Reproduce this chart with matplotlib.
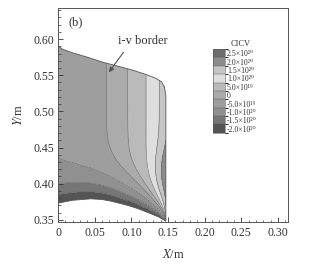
import numpy as np
import matplotlib
matplotlib.use('Agg')
import matplotlib.pyplot as plt
import matplotlib.ticker as ticker
from matplotlib.path import Path
from matplotlib.patches import PathPatch
from matplotlib.colors import ListedColormap, BoundaryNorm
from matplotlib.cm import ScalarMappable

plt.rcParams['font.family'] = ['Liberation Serif', 'DejaVu Serif']
plt.rcParams['mathtext.fontset'] = 'stix'

# domain outline (m)
top_x = [0.0, 0.006, 0.02, 0.04, 0.061, 0.08, 0.102, 0.12, 0.133, 0.141, 0.145, 0.147]
top_y = [0.591, 0.586, 0.581, 0.575, 0.568, 0.563, 0.557, 0.551, 0.546, 0.541, 0.534, 0.522]
bot_x = [0.0, 0.02, 0.045, 0.06, 0.071, 0.087, 0.098, 0.11, 0.125, 0.137, 0.147]
bot_y = [0.373, 0.377, 0.379, 0.378, 0.376, 0.372, 0.369, 0.365, 0.359, 0.354, 0.348]
corner_x = 0.147

# contour positions (values in 1e20)
top_line_x = [0.147, 0.138, 0.120, 0.095, 0.066]   # along y = 0.55
top_line_v = [1.9, 1.5, 1.0, 0.5, 0.0]
left_line_y = [0.436, 0.400, 0.385, 0.373]          # along x = 0
left_line_v = [-0.5, -1.0, -1.5, -1.9]
spot_x, spot_y, spot_v = 0.148, 0.415, 0.5          # darker patch on right wall

# legend, top to bottom
legend_labels = ['2.5×10²⁰', '2.0×10²⁰', '1.5×10²⁰', '1.0×10²⁰', '5.0×10¹⁹',
                 '0', '-5.0×10¹⁹', '-1.0×10²⁰', '-1.5×10²⁰', '-2.0×10²⁰']
legend_colors = ['#6e6e6e', '#8c8c8c', '#c6c6c6', '#dedede', '#bababa',
                 '#ababab', '#9e9e9e', '#909090', '#767676', '#545454']
legend_vals = [2.5, 2.0, 1.5, 1.0, 0.5, 0.0, -0.5, -1.0, -1.5, -2.0]


def u_coord(x, y):
    """fan coordinate around the bottom-right corner: 0 on the wall, 1 on the bottom"""
    ybot = np.interp(x, bot_x, bot_y)
    p = np.clip((corner_x - x) / corner_x, 0, None)
    d = np.clip(y - ybot, 0, None)
    g = 1 - np.exp(-(d / 0.044) ** 2)
    return np.arctan2(p, g) / (np.pi / 2)


def main():
    # sample values along the fan coordinate
    su = np.concatenate([u_coord(np.array(top_line_x), np.full(len(top_line_x), 0.55)),
                         u_coord(np.zeros(len(left_line_y)), np.array(left_line_y))])
    sv = np.array(top_line_v + left_line_v)
    order = np.argsort(su)
    su, sv = su[order], sv[order]

    gx, gy = np.meshgrid(np.linspace(0, 0.152, 400), np.linspace(0.344, 0.60, 400))
    field = np.interp(u_coord(gx, gy), su, sv)
    field += spot_v * np.exp(-((gx - spot_x) / 0.016) ** 2 - ((gy - spot_y) / 0.035) ** 2)

    fig = plt.figure(figsize=(3.09, 2.69), dpi=100)
    ax = fig.add_axes([0.188, 0.175, 0.744, 0.795])

    levels = [-10, -1.5, -1.0, -0.5, 0, 0.5, 1.0, 1.5, 2.0, 2.5, 10]
    band_colors = legend_colors[::-1]
    cs = ax.contourf(gx, gy, field, levels=levels, colors=band_colors)
    cl = ax.contour(gx, gy, field, levels=levels[1:-1], colors='#666666', linewidths=0.4)

    verts = list(zip(top_x, top_y)) + list(zip(bot_x[::-1], bot_y[::-1]))
    verts.append(verts[0])
    outline = PathPatch(Path(verts, closed=True), facecolor='none', edgecolor='#555555', lw=0.6)
    ax.add_patch(outline)
    cs.set_clip_path(outline)
    cl.set_clip_path(outline)

    ax.set_xlim(0, 0.3136)
    ax.set_ylim(0.347, 0.643)
    ax.xaxis.set_major_locator(ticker.MultipleLocator(0.05))
    ax.yaxis.set_major_locator(ticker.MultipleLocator(0.05))
    ax.xaxis.set_minor_locator(ticker.MultipleLocator(0.01))
    ax.yaxis.set_minor_locator(ticker.MultipleLocator(0.01))
    ax.xaxis.set_major_formatter(ticker.FuncFormatter(lambda v, pos: '0' if abs(v) < 1e-9 else '%.2f' % v))
    ax.yaxis.set_major_formatter(ticker.FormatStrFormatter('%.2f'))
    ax.tick_params(which='major', direction='in', length=3.5, width=0.6, labelsize=8.5, colors='#333333')
    ax.tick_params(which='minor', direction='in', length=1.8, width=0.5, colors='#333333')
    ax.tick_params(axis='x', pad=4)
    ax.tick_params(axis='y', pad=3)
    for s in ax.spines.values():
        s.set_color('#555555')
        s.set_linewidth(0.7)

    ax.set_xlabel('$X$/m', fontsize=9, color='#333333', labelpad=6)
    ax.set_ylabel('$Y$/m', fontsize=9, color='#333333', labelpad=6)

    ax.text(0.014, 0.623, '(b)', fontsize=9, color='#333333', va='center')
    ax.annotate('i-v border', xy=(0.067, 0.551), xytext=(0.082, 0.597),
                fontsize=9, color='#333333', va='center', ha='left',
                arrowprops=dict(arrowstyle='-|>', color='#555555', lw=0.8,
                                mutation_scale=7, relpos=(0.18, 0)))

    # legend
    cax = fig.add_axes([0.689, 0.506, 0.039, 0.312])
    norm = BoundaryNorm(np.arange(-2.0, 3.01, 0.5), 10)
    sm = ScalarMappable(norm=norm, cmap=ListedColormap(band_colors))
    centers = [v + 0.25 for v in legend_vals[::-1]]
    cb = fig.colorbar(sm, cax=cax, ticks=centers, drawedges=True)
    cb.ax.set_yticklabels(legend_labels[::-1])
    cb.ax.tick_params(length=0, pad=1.5, labelsize=5.6, colors='#333333')
    cb.outline.set_linewidth(0.4)
    cb.outline.set_edgecolor('#555555')
    cb.dividers.set_linewidth(0.3)
    cb.dividers.set_color('#555555')
    fig.text(0.78, 0.835, 'CICV', fontsize=6, color='#333333', ha='center', va='center')

    fig.savefig('out.png', dpi=100)


if __name__ == '__main__':
    main()
